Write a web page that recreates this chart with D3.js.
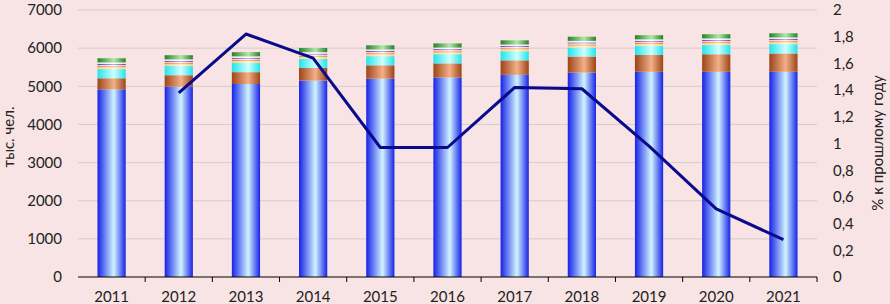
<!DOCTYPE html>
<html>
<head>
<meta charset="utf-8">
<script src="https://cdnjs.cloudflare.com/ajax/libs/d3/7.8.5/d3.min.js"></script>
<style>
  body { margin: 0; background: #f8e4e4; }
  svg { display: block; }
  text { font-family: Lato, "Open Sans", sans-serif; fill: #222; }
</style>
</head>
<body>
<div class="chart"></div>
<script>
// Chart data
var years = ["2011", "2012", "2013", "2014", "2015", "2016", "2017", "2018", "2019", "2020", "2021"];
var blue   = [4920, 4990, 5060, 5150, 5200, 5230, 5300, 5360, 5380, 5380, 5380];
var brown  = [290, 300, 310, 330, 350, 370, 380, 420, 440, 460, 480];
var cyan   = [240, 240, 240, 240, 240, 240, 240, 235, 235, 240, 245];
var yellow = [50, 50, 50, 50, 50, 50, 50, 50, 50, 50, 50];
var orange = [30, 30, 30, 30, 30, 30, 30, 30, 30, 30, 30];
var pink   = [30, 30, 30, 30, 30, 30, 30, 30, 30, 30, 30];
var purple = [25, 25, 25, 25, 25, 25, 25, 25, 25, 25, 25];
var white  = [40, 40, 40, 40, 40, 40, 40, 40, 40, 40, 40];
var green  = [110, 110, 110, 110, 110, 110, 110, 110, 110, 110, 110];
var growth = [null, 1.38, 1.82, 1.64, 0.97, 0.97, 1.42, 1.41, 0.98, 0.51, 0.28];
var leftTicks = [0, 1000, 2000, 3000, 4000, 5000, 6000, 7000];
var rightTicks = [0, 0.2, 0.4, 0.6, 0.8, 1, 1.2, 1.4, 1.6, 1.8, 2];

var width = 890, height = 304;
var margin = {top: 10, right: 73, bottom: 27, left: 78};
var innerW = width - margin.left - margin.right;
var innerH = height - margin.top - margin.bottom;

var svg = d3.select(".chart")
  .append("svg")
    .attr("width", width)
    .attr("height", height);

// Gradients for the glossy bar look
var series = [
  {key: "blue", values: blue, edge: "#1622e8", mid: "#d0f4ff"},
  {key: "brown", values: brown, edge: "#9c4418", mid: "#f4b088"},
  {key: "cyan", values: cyan, edge: "#20e4ec", mid: "#d0ffff"},
  {key: "yellow", values: yellow, edge: "#f2d488", mid: "#fff6dc"},
  {key: "orange", values: orange, edge: "#e6822a", mid: "#ffcc88"},
  {key: "pink", values: pink, edge: "#eec4d4", mid: "#fff4f8"},
  {key: "purple", values: purple, edge: "#6434a4", mid: "#c4a4ee"},
  {key: "white", values: white, edge: "#e4e4ee", mid: "#ffffff"},
  {key: "green", values: green, edge: "#26822a", mid: "#b0e8a8"}
];

var defs = svg.append("defs");
series.forEach(function(s) {
  var gr = defs.append("linearGradient")
    .attr("id", "grad-" + s.key)
    .attr("x1", "0%").attr("x2", "100%")
    .attr("y1", "0%").attr("y2", "0%");
  gr.append("stop").attr("offset", "0%").attr("stop-color", s.edge);
  gr.append("stop").attr("offset", "58%").attr("stop-color", s.mid);
  gr.append("stop").attr("offset", "100%").attr("stop-color", s.edge);
});

var g = svg.append("g")
  .attr("transform", "translate(" + margin.left + "," + margin.top + ")");

var x = d3.scaleBand()
  .domain(years)
  .range([0, innerW])
  .paddingInner(0.58)
  .paddingOuter(0.29);

var y = d3.scaleLinear().domain([0, 7000]).range([innerH, 0]);
var y2 = d3.scaleLinear().domain([0, 2]).range([innerH, 0]);

// Gridlines
g.selectAll(".grid")
  .data(leftTicks.slice(1))
  .enter()
  .append("line")
    .attr("x1", 0)
    .attr("x2", innerW)
    .attr("y1", function(d) { return y(d); })
    .attr("y2", function(d) { return y(d); })
    .style("stroke", "#d8cccc")
    .style("stroke-width", 1);

// Stack the segments
var rows = years.map(function(yr, i) {
  var row = {year: yr};
  series.forEach(function(s) { row[s.key] = s.values[i]; });
  return row;
});
var stack = d3.stack().keys(series.map(function(s) { return s.key; }));
var layers = stack(rows);

g.selectAll(".layer")
  .data(layers)
  .enter()
  .append("g")
    .attr("class", "layer")
    .style("fill", function(d) { return "url(#grad-" + d.key + ")"; })
  .selectAll("rect")
  .data(function(d) { return d; })
  .enter()
  .append("rect")
    .attr("x", function(d) { return x(d.data.year); })
    .attr("width", x.bandwidth())
    .attr("y", function(d) { return y(d[1]); })
    .attr("height", function(d) { return y(d[0]) - y(d[1]); });

// Line of yearly growth
var line = d3.line()
  .defined(function(d) { return d != null; })
  .x(function(d, i) { return x(years[i]) + x.bandwidth() / 2; })
  .y(function(d) { return y2(d); });

g.append("path")
  .datum(growth)
  .attr("d", line)
  .style("fill", "none")
  .style("stroke", "#0a0a8c")
  .style("stroke-width", 3)
  .style("stroke-linejoin", "round");

// Axes
var xAxis = d3.axisBottom(x).tickSize(0).tickPadding(14);
var xg = g.append("g")
  .attr("transform", "translate(0," + innerH + ")")
  .call(xAxis);
xg.select(".domain").style("stroke", "#000").attr("d", "M0,0H" + innerW + "V5");
xg.selectAll("text").style("font-size", "15px").style("font-family", "Lato, sans-serif");

// category boundary ticks
var step = x.step();
g.selectAll(".xtick")
  .data(years.slice(1))
  .enter()
  .append("line")
    .attr("x1", function(d) { return x(d) - step * 0.29; })
    .attr("x2", function(d) { return x(d) - step * 0.29; })
    .attr("y1", innerH)
    .attr("y2", innerH + 5)
    .style("stroke", "#000");

var yAxis = d3.axisLeft(y).tickValues(leftTicks).tickFormat(d3.format("d")).tickSize(0).tickPadding(16);
var yg = g.append("g").call(yAxis);
yg.select(".domain").remove();
yg.selectAll("text").style("font-size", "15px").style("font-family", "Lato, sans-serif");

var fmt = function(d) { return String(d).replace(".", ","); };
var y2Axis = d3.axisRight(y2).tickValues(rightTicks).tickFormat(fmt).tickSize(0).tickPadding(16);
var y2g = g.append("g").attr("transform", "translate(" + innerW + ",0)").call(y2Axis);
y2g.select(".domain").remove();
y2g.selectAll("text").style("font-size", "15px").style("font-family", "Lato, sans-serif");

// Axis titles
svg.append("text")
  .attr("transform", "translate(14," + 137 + ") rotate(-90)")
  .attr("text-anchor", "middle")
  .style("font-size", "15px")
  .text("тыс. чел.");

svg.append("text")
  .attr("transform", "translate(883," + 143 + ") rotate(-90)")
  .attr("text-anchor", "middle")
  .style("font-size", "15px")
  .text("% к прошлому году");
</script>
</body>
</html>
